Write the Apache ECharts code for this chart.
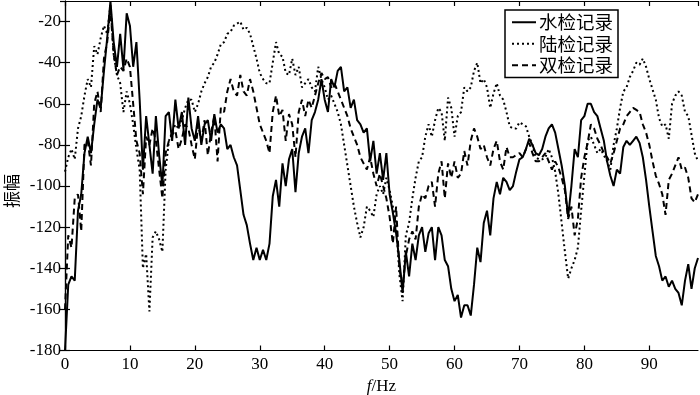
<!DOCTYPE html>
<html>
<head>
<meta charset="utf-8">
<script src="https://cdn.jsdelivr.net/npm/echarts@6/dist/echarts.min.js"></script>
<style>
  html, body { margin: 0; padding: 0; background: #fff; }
  #chart { width: 700px; height: 395px; }
</style>
</head>
<body>
<div id="chart"></div>
<script>
// 频率步长 0.5 Hz，0 ~ 97.5 Hz
const step = 0.5
// 水检记录
const water = [
  -180, -148, -144, -146, -112, -104, -84, -76, -84, -70,
  -58, -62, -44, -28, -10, -30, -42, -26, -43, -16,
  -22, -42, -30, -58, -92, -66, -80, -94, -66, -85,
  -100, -66, -64, -78, -58, -72, -64, -80, -57, -72,
  -78, -66, -80, -70, -68, -78, -65, -74, -70, -72,
  -82, -80, -86, -90, -102, -114, -119, -128, -136, -130,
  -136, -131, -136, -128, -105, -97, -110, -89, -100, -87,
  -82, -103, -84, -76, -72, -84, -68, -64, -58, -48,
  -58, -64, -48, -52, -44, -42, -54, -52, -62, -58,
  -68, -70, -74, -72, -88, -78, -94, -84, -97, -84,
  -104, -113, -123, -136, -152, -132, -144, -128, -136, -124,
  -120, -132, -123, -120, -136, -120, -124, -136, -139, -150,
  -156, -153, -164, -158, -158, -163, -148, -130, -137, -118,
  -112, -124, -106, -98, -104, -96, -98, -102, -100, -93,
  -87, -86, -82, -77, -80, -84, -85, -82, -76, -72,
  -70, -74, -82, -90, -100, -115, -100, -82, -86, -68,
  -66, -60, -60, -64, -66, -72, -78, -88, -95, -100,
  -92, -94, -81, -78, -80, -78, -76, -79, -86, -97,
  -110, -122, -134, -139, -146, -144, -149, -146, -150, -152,
  -158, -146, -138, -150, -140, -135
]
// 陆检记录
const land = [
  -93, -86, -82, -87, -72, -66, -56, -48, -52, -32,
  -36, -28, -22, -26, -12, -36, -46, -50, -64, -54,
  -60, -70, -82, -92, -140, -133, -161, -125, -122, -126,
  -132, -92, -78, -74, -70, -72, -68, -62, -58, -58,
  -64, -60, -54, -50, -47, -42, -40, -36, -31, -30,
  -26, -25, -22, -21, -20, -24, -23, -26, -32, -38,
  -45, -48, -50, -50, -40, -30, -36, -37, -45, -46,
  -38, -46, -42, -52, -50, -48, -52, -54, -42, -48,
  -52, -58, -56, -60, -64, -70, -80, -90, -100, -110,
  -118, -125, -120, -110, -112, -115, -104, -100, -104, -96,
  -102, -110, -118, -143, -156, -124, -118, -106, -96, -88,
  -86, -76, -70, -76, -68, -62, -64, -78, -57, -62,
  -76, -66, -64, -52, -54, -52, -44, -40, -50, -48,
  -52, -62, -55, -50, -56, -58, -64, -71, -72, -72,
  -69, -70, -71, -76, -80, -86, -87, -87, -86, -82,
  -86, -93, -104, -118, -132, -145, -140, -136, -130, -112,
  -95, -78, -76, -80, -84, -82, -85, -88, -92, -80,
  -72, -62, -54, -52, -47, -44, -40, -41, -38, -42,
  -48, -53, -58, -67, -71, -70, -77, -60, -56, -54,
  -56, -64, -66, -75, -84, -88
]
// 双检记录
const dual = [
  -160, -124, -130, -106, -104, -122, -80, -78, -90, -60,
  -54, -64, -38, -30, -14, -36, -46, -42, -44, -38,
  -42, -60, -78, -84, -104, -76, -80, -72, -78, -92,
  -106, -84, -78, -75, -73, -82, -77, -70, -72, -80,
  -87, -70, -78, -68, -85, -74, -66, -88, -62, -64,
  -54, -48, -54, -56, -46, -54, -56, -48, -54, -62,
  -70, -74, -78, -84, -64, -56, -66, -63, -78, -65,
  -70, -86, -64, -58, -66, -58, -62, -56, -50, -45,
  -48, -47, -52, -50, -54, -58, -62, -66, -72, -76,
  -80, -86, -89, -92, -86, -94, -100, -94, -100, -106,
  -115, -128, -110, -140, -149, -134, -126, -122, -126, -110,
  -104, -106, -100, -98, -110, -94, -88, -106, -89, -96,
  -88, -96, -94, -83, -90, -78, -72, -76, -82, -80,
  -86, -90, -82, -78, -88, -92, -81, -86, -86, -85,
  -84, -86, -82, -79, -84, -88, -88, -86, -84, -88,
  -92, -88, -91, -96, -102, -116, -110, -124, -116, -96,
  -86, -79, -70, -72, -77, -80, -84, -86, -89, -84,
  -78, -72, -70, -66, -64, -62, -63, -64, -70, -74,
  -80, -88, -95, -99, -104, -114, -97, -94, -90, -86,
  -92, -91, -96, -106, -108, -104
]
const seriesNames = ['水检记录', '陆检记录', '双检记录']

const freq = water.map((v, i) => i * step)
const pair = arr => arr.map((v, i) => [freq[i], v])

var myChart = echarts.init(document.getElementById('chart'))

const numFont = { fontFamily: 'Liberation Serif', fontSize: 17, color: '#000' }
const axLine = { show: true, lineStyle: { color: '#000', width: 1.2 } }
const tickIn = { show: true, inside: true, length: 5, lineStyle: { color: '#000', width: 1.2 } }

let option = {
  animation: false,
  backgroundColor: '#fff',
  grid: { left: 65, right: 2, top: 1, bottom: 44.5, containLabel: false, outerBoundsMode: 'none' },
  // 纵轴标题（原图偏下）
  graphic: [
    {
      type: 'text',
      x: 3,
      y: 208,
      rotation: Math.PI / 2,
      style: {
        text: '振幅',
        font: '17px "Noto Sans CJK SC"',
        fill: '#000',
        textAlign: 'left',
        textVerticalAlign: 'top'
      }
    }
  ],
  legend: {
    orient: 'vertical',
    left: 505,
    top: 10,
    padding: [3, 5, 3, 6],
    itemGap: 3,
    itemWidth: 24,
    itemHeight: 18,
    backgroundColor: '#fff',
    borderColor: '#000',
    borderWidth: 1.5,
    borderRadius: 0,
    itemStyle: { opacity: 0 },
    textStyle: { fontFamily: 'Noto Sans CJK SC', fontSize: 18.5, color: '#000', padding: [0, 0, 0, -2] },
    data: seriesNames
  },
  xAxis: [
    {
      type: 'value',
      min: 0,
      max: 97.5,
      interval: 10,
      axisLine: axLine,
      axisTick: tickIn,
      splitLine: { show: false },
      axisLabel: Object.assign({ margin: 6, showMaxLabel: false }, numFont),
      name: '{i|f}/Hz',
      nameLocation: 'middle',
      nameGap: 27,
      nameTextStyle: {
        fontFamily: 'Liberation Serif', fontSize: 17, color: '#000',
        rich: { i: { fontFamily: 'Liberation Serif', fontStyle: 'italic', fontSize: 17, color: '#000' } }
      }
    },
    {
      type: 'value',
      position: 'top',
      min: 0,
      max: 97.5,
      interval: 10,
      axisLine: axLine,
      axisTick: tickIn,
      axisLabel: { show: false },
      splitLine: { show: false }
    }
  ],
  yAxis: [
    {
      type: 'value',
      min: -180,
      max: -10,
      interval: 20,
      axisLine: axLine,
      axisTick: tickIn,
      splitLine: { show: false },
      axisLabel: Object.assign({ margin: 4, showMaxLabel: false }, numFont)
    },
    {
      type: 'value',
      position: 'right',
      min: -180,
      max: -10,
      interval: 20,
      axisLine: axLine,
      axisTick: tickIn,
      axisLabel: { show: false },
      splitLine: { show: false }
    }
  ],
  series: [
    {
      name: seriesNames[0],
      type: 'line',
      symbol: 'none',
      clip: true,
      lineStyle: { color: '#000', width: 2, type: 'solid' },
      itemStyle: { color: '#000' },
      data: pair(water)
    },
    {
      name: seriesNames[1],
      type: 'line',
      symbol: 'none',
      clip: true,
      lineStyle: { color: '#000', width: 2, type: [2, 3] },
      itemStyle: { color: '#000' },
      data: pair(land)
    },
    {
      name: seriesNames[2],
      type: 'line',
      symbol: 'none',
      clip: true,
      lineStyle: { color: '#000', width: 2, type: [6, 4] },
      itemStyle: { color: '#000' },
      data: pair(dual)
    }
  ]
}

myChart.setOption(option)
</script>
</body>
</html>
